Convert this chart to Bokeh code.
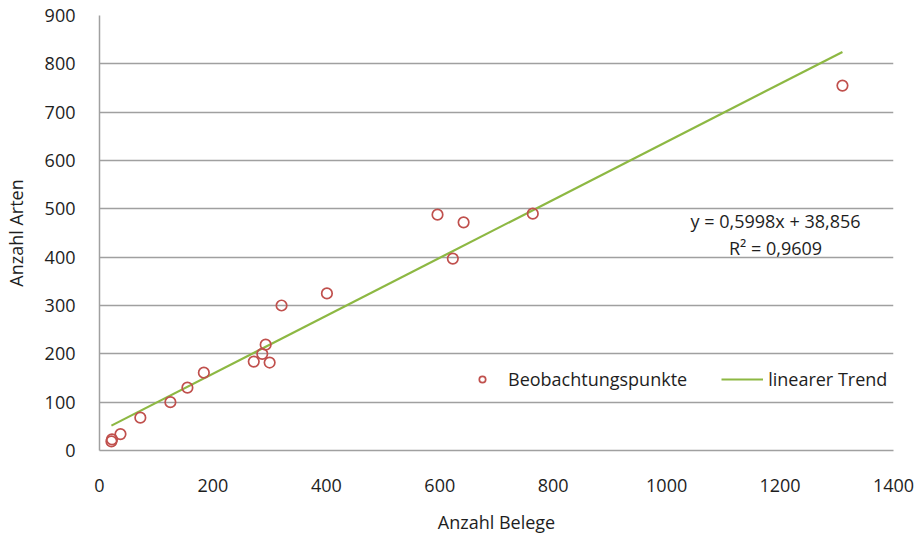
from bokeh.plotting import figure
from bokeh.models import (Legend, LegendItem, Label, SingleIntervalTicker, ColumnDataSource)
from bokeh.embed import file_html
from bokeh.resources import INLINE

# Data
belege = [21, 22, 37, 72, 125, 155, 184, 272, 287, 293, 300, 321, 401, 596, 623, 642, 764, 1310]
arten = [19, 23, 34, 68, 100, 130, 161, 184, 200, 219, 182, 300, 325, 488, 397, 472, 490, 755]
slope = 0.5998
intercept = 38.856
eq_text = "y = 0,5998x + 38,856"
r2_text = "R² = 0,9609"
x_title = "Anzahl Belege"
y_title = "Anzahl Arten"
series_names = ["Beobachtungspunkte", "linearer Trend"]

FONT = "Open Sans"
FS = "18px"
TXT = "#1E1E1E"
GRID = "#A0A0A0"
RED = "#C0504D"
GREEN = "#8DB843"

p = figure(width=919, height=537, output_backend="svg", toolbar_location=None,
           x_range=(0, 1400), y_range=(0, 900),
           min_border_left=99, min_border_right=26, min_border_top=15, min_border_bottom=87)
p.outline_line_color = None
p.background_fill_color = "white"
p.border_fill_color = "white"

p.xgrid.grid_line_color = None
p.ygrid.grid_line_color = GRID
p.ygrid.grid_line_width = 1.5

p.xaxis.ticker = SingleIntervalTicker(interval=200)
p.yaxis.ticker = SingleIntervalTicker(interval=100)
for ax in (p.xaxis[0], p.yaxis[0]):
    ax.axis_line_color = GRID
    ax.axis_line_width = 1.5
    ax.major_tick_line_color = None
    ax.minor_tick_line_color = None
    ax.major_tick_out = 0
    ax.major_tick_in = 0
    ax.major_label_text_font = FONT
    ax.major_label_text_font_size = FS
    ax.major_label_text_color = TXT
    ax.axis_label_text_font = FONT
    ax.axis_label_text_font_size = FS
    ax.axis_label_text_font_style = "normal"
    ax.axis_label_text_color = TXT

p.xaxis.axis_label = x_title
p.yaxis.axis_label = y_title
p.xaxis.major_label_standoff = 24
p.xaxis.axis_label_standoff = 15
p.yaxis.major_label_standoff = 20
p.yaxis.axis_label_standoff = 14

x_line = [min(belege), max(belege)]
y_line = [slope * v + intercept for v in x_line]
ln = p.line(x_line, y_line, line_color=GREEN, line_width=2.2)

src = ColumnDataSource(dict(x=belege, y=arten))
sc = p.scatter("x", "y", source=src, marker="circle", size=10.5, fill_color=None,
               line_color=RED, line_width=1.7)

legend = Legend(items=[LegendItem(label=series_names[0], renderers=[sc]),
                       LegendItem(label=series_names[1], renderers=[ln])],
                orientation="horizontal", location=(362, 59),
                glyph_width=42, glyph_height=16, label_standoff=5, spacing=34,
                padding=0, margin=0, border_line_color=None, background_fill_alpha=0,
                label_text_font=FONT, label_text_font_size=FS, label_text_color=TXT,
                label_height=20)
p.add_layout(legend, "center")

p.add_layout(Label(x=1192, y=474, text=eq_text, text_align="center", text_baseline="middle",
                   text_font=FONT, text_font_size=FS, text_color=TXT))
p.add_layout(Label(x=1192, y=420, text=r2_text, text_align="center", text_baseline="middle",
                   text_font=FONT, text_font_size=FS, text_color=TXT))

open("out.html", "w").write(file_html(p, INLINE))
